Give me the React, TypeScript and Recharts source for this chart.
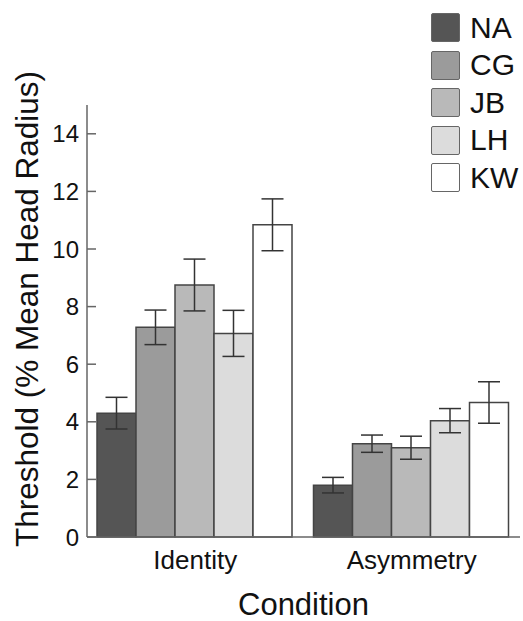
import { BarChart, Bar, XAxis, YAxis, ErrorBar } from "recharts";

const conditions = ["Identity", "Asymmetry"];

const subjects = ["NA", "CG", "JB", "LH", "KW"];
const subjectColors = ["#555555", "#9b9b9b", "#b9b9b9", "#dcdcdc", "#ffffff"];

// thresholds per subject: [Identity, Asymmetry]
const naValues = [4.3, 1.8];
const cgValues = [7.28, 3.24];
const jbValues = [8.75, 3.1];
const lhValues = [7.07, 4.04];
const kwValues = [10.84, 4.67];

// error bar half-widths
const naErrors = [0.55, 0.27];
const cgErrors = [0.6, 0.3];
const jbErrors = [0.9, 0.4];
const lhErrors = [0.8, 0.42];
const kwErrors = [0.9, 0.72];

const yTicks = [0, 2, 4, 6, 8, 10, 12, 14];

const allValues = [naValues, cgValues, jbValues, lhValues, kwValues];
const allErrors = [naErrors, cgErrors, jbErrors, lhErrors, kwErrors];

const data = conditions.map((c, i) => {
  const row: Record<string, string | number> = { condition: c };
  subjects.forEach((s, j) => {
    row[s] = allValues[j][i];
    row[s + "_err"] = allErrors[j][i];
  });
  return row;
});

const FONT = "'Liberation Sans', Arial, Helvetica, sans-serif";

function YTick(props: any) {
  const { x, y, payload } = props;
  return (
    <g>
      <line x1={x} y1={y} x2={x + 9} y2={y} stroke="#666" strokeWidth={1.5} />
      <text
        x={x - 8}
        y={y}
        dy={8.5}
        textAnchor="end"
        fontSize={24}
        fontFamily={FONT}
        fill="#111"
      >
        {payload.value}
      </text>
    </g>
  );
}

function XTick(props: any) {
  const { x, y, payload } = props;
  return (
    <text x={x} y={y} dy={24} textAnchor="middle" fontSize={26} fontFamily={FONT} fill="#111">
      {payload.value}
    </text>
  );
}

function XLabel(props: any) {
  const vb = props.viewBox || {};
  const cx = (vb.x ?? 87) + (vb.width ?? 433) / 2;
  return (
    <text x={cx} y={615} textAnchor="middle" fontSize={31} fontFamily={FONT} fill="#111">
      Condition
    </text>
  );
}

function YLabel(props: any) {
  const vb = props.viewBox || {};
  const cy = (vb.y ?? 105) + (vb.height ?? 432) / 2 - 12;
  return (
    <text
      x={38}
      y={cy}
      transform={`rotate(-90, 38, ${cy})`}
      textAnchor="middle"
      fontSize={31.5}
      fontFamily={FONT}
      fill="#111"
    >
      Threshold (% Mean Head Radius)
    </text>
  );
}

function LegendBox() {
  return (
    <div style={{ position: "absolute", left: 431, top: 9, fontFamily: FONT }}>
      {subjects.map((s, i) => (
        <div
          key={s}
          style={{ display: "flex", alignItems: "center", height: 37.5 }}
        >
          <div
            style={{
              width: 27,
              height: 27,
              background: subjectColors[i],
              border: "1.5px solid #666",
              borderRadius: 2,
              marginRight: 10,
            }}
          />
          <span style={{ fontSize: 30, color: "#111", lineHeight: "30px" }}>{s}</span>
        </div>
      ))}
    </div>
  );
}

export default function App() {
  return (
    <div style={{ position: "absolute", left: 0, top: 0, width: 523, height: 621, background: "#fff" }}>
      <BarChart
        width={523}
        height={621}
        data={data}
        margin={{ top: 105, right: 3, left: 0, bottom: 40 }}
        barGap={0}
        barCategoryGap={10}
      >
        <XAxis
          dataKey="condition"
          axisLine={{ stroke: "#666", strokeWidth: 1.5 }}
          tickLine={false}
          tick={<XTick />}
          height={44}
          label={<XLabel />}
        />
        <YAxis
          domain={[0, 15]}
          ticks={yTicks}
          width={87}
          tickSize={0}
          tickMargin={0}
          axisLine={{ stroke: "#666", strokeWidth: 1.5 }}
          tickLine={false}
          tick={<YTick />}
          label={<YLabel />}
          interval={0}
        />
        {subjects.map((s, i) => (
          <Bar
            key={s}
            dataKey={s}
            fill={subjectColors[i]}
            stroke="#444"
            strokeWidth={1.5}
            isAnimationActive={false}
          >
            <ErrorBar
              dataKey={s + "_err"}
              width={11}
              stroke="#333"
              strokeWidth={1.5}
              direction="y"
            />
          </Bar>
        ))}
      </BarChart>
      <LegendBox />
    </div>
  );
}
